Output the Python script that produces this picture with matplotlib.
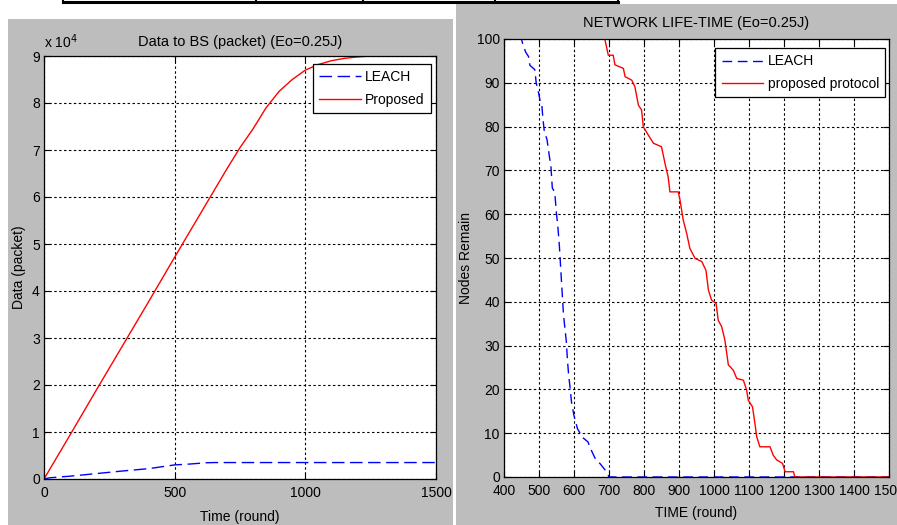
import matplotlib
matplotlib.use("Agg")
import matplotlib.pyplot as plt
from matplotlib.patches import Rectangle
from matplotlib.lines import Line2D

plt.rcParams['font.family'] = ['Liberation Sans Narrow', 'Liberation Sans', 'DejaVu Sans']

# ---------------- data: left panel (Data to BS) ----------------
left_rounds_proposed = [0, 100, 200, 300, 400, 500, 600, 700, 750, 800, 850, 900, 950,
                        1000, 1050, 1100, 1150, 1200, 1250, 1500]
left_data_proposed = [0, 9400, 18900, 28300, 37700, 47200, 56600, 66000, 70500, 74500,
                      79000, 82500, 85000, 87000, 88200, 89000, 89500, 89800, 90000, 90000]
left_rounds_leach = [0, 20, 100, 200, 300, 400, 500, 550, 620, 650, 1500]
left_data_leach = [0, 250, 600, 1150, 1700, 2200, 3000, 3150, 3450, 3500, 3500]
left_yticks = [0, 10000, 20000, 30000, 40000, 50000, 60000, 70000, 80000, 90000]
left_yticklabels = ['0', '1', '2', '3', '4', '5', '6', '7', '8', '9']
left_xticks = [0, 500, 1000, 1500]

# ---------------- data: right panel (Network life-time) ----------------
right_rounds_leach = [0, 450, 453, 462, 470, 474, 488, 492, 498, 503, 508, 511, 515, 523,
                      530, 534, 538, 545, 550, 553, 558, 561, 564, 567, 570, 574, 578,
                      581, 585, 588, 593, 600, 610, 625, 640, 650, 662, 675, 685, 695,
                      700, 1500]
right_nodes_leach = [100, 100, 99, 97, 96, 94, 93, 90, 88, 86, 85, 82, 79, 77,
                     73, 71, 66, 65, 60, 58, 53, 49, 45, 41, 37, 34, 31,
                     27, 23, 21, 17, 14, 11, 9, 8, 6, 4, 3, 2, 1,
                     0, 0]
right_rounds_proposed = [0, 688, 698, 712, 717, 741, 746, 765, 774, 784, 793, 798, 812,
                         827, 850, 860, 869, 874, 898, 903, 912, 922, 931, 946, 965,
                         977, 984, 993, 1006, 1012, 1022, 1031, 1041, 1055, 1065, 1084,
                         1093, 1098, 1110, 1117, 1122, 1131, 1160, 1169, 1179, 1196,
                         1203, 1227, 1231, 1500]
right_nodes_proposed = [100, 100, 96.3, 96.3, 94.1, 93.3, 91.4, 90.6, 89.1, 84.9, 83.8, 80, 78.1,
                        76.2, 75.4, 71.6, 68.5, 65.1, 65.1, 63.2, 58.7, 55.6, 52.2, 49.9, 49.2,
                        47.2, 42.7, 40.4, 39.6, 35.8, 34.3, 31.3, 25.6, 24.4, 22.5, 22.1,
                        19.9, 17.5, 16.0, 12.2, 9.2, 6.9, 6.9, 5.0, 3.9, 3.1,
                        1.2, 1.2, 0, 0]
right_xticks = list(range(400, 1501, 100))
right_yticks = list(range(0, 101, 10))

W, H = 897, 525
fig = plt.figure(figsize=(W / 100, H / 100), dpi=100)
fig.patch.set_facecolor('white')

GREY = '#bdbdbd'


def frect(x0, y0, x1, y1, **kw):
    fig.add_artist(Rectangle((x0 / W, 1 - y1 / H), (x1 - x0) / W, (y1 - y0) / H,
                             transform=fig.transFigure, **kw))


frect(8, 19, 453, 525, facecolor=GREY, edgecolor='none', zorder=0)
frect(456, 4, 897, 525, facecolor=GREY, edgecolor='none', zorder=0)

# table border fragment at the top
fig.add_artist(Line2D([63 / W, 618 / W], [1 - 2 / H, 1 - 2 / H],
                      transform=fig.transFigure, color='black', lw=2.2))
for xv in [63, 256, 363, 495, 618]:
    fig.add_artist(Line2D([xv / W, xv / W], [1, 1 - 3 / H], transform=fig.transFigure,
                          color='black', lw=1.5))


def ax_at(l, t, r, b):
    return fig.add_axes([l / W, 1 - b / H, (r - l) / W, (b - t) / H])


FS = 10
grid_kw = dict(color='black', linestyle=(0, (2.2, 2.2)), linewidth=0.8)


def style(ax):
    ax.set_facecolor('white')
    for s in ax.spines.values():
        s.set_color('black')
        s.set_linewidth(0.9)
    ax.tick_params(direction='in', length=4, width=0.8, top=True, right=True,
                   labelsize=FS, pad=3, colors='black')
    ax.tick_params(axis='x', pad=5)
    ax.grid(True, **grid_kw)
    ax.set_axisbelow(True)


leg_kw = dict(loc='upper right', fontsize=FS, frameon=True, fancybox=False,
              edgecolor='black', framealpha=1, handlelength=3.0,
              borderpad=0.45, labelspacing=0.6, handletextpad=0.3, borderaxespad=0)

# ---------------- left panel ----------------
ax1 = ax_at(44, 56, 436, 479)
style(ax1)
ax1.plot(left_rounds_leach, left_data_leach, color='blue', lw=1.0,
         dashes=(9, 4), label='LEACH')
ax1.plot(left_rounds_proposed, left_data_proposed, color='red', lw=1.0, label='Proposed')
ax1.set_xlim(0, 1500)
ax1.set_ylim(0, 90000)
ax1.set_xticks(left_xticks)
ax1.set_yticks(left_yticks)
ax1.set_yticklabels(left_yticklabels)
ax1.set_title('Data to BS (packet) (Eo=0.25J)', fontsize=FS + 0.5, pad=7)
ax1.set_xlabel('Time (round)', fontsize=FS, labelpad=7)
ax1.set_ylabel('Data (packet)', fontsize=FS, labelpad=4)
ax1.text(0.0, 1.012, r'x 10$^{4}$', transform=ax1.transAxes, fontsize=FS,
         ha='left', va='bottom')
leg1 = ax1.legend(bbox_to_anchor=(0.987, 0.981), **leg_kw)
leg1.get_frame().set_linewidth(0.9)

# ---------------- right panel ----------------
ax2 = ax_at(504, 39, 889, 477)
style(ax2)
ax2.plot(right_rounds_leach, right_nodes_leach, color='blue', lw=1.0,
         dashes=(7, 4), label='LEACH')
ax2.plot(right_rounds_proposed, right_nodes_proposed, color='red', lw=1.0,
         label='proposed protocol')
ax2.set_xlim(400, 1500)
ax2.set_ylim(0, 100)
ax2.set_xticks(right_xticks)
ax2.set_yticks(right_yticks)
ax2.set_title('NETWORK LIFE-TIME (Eo=0.25J)', fontsize=FS + 0.5, pad=9)
ax2.set_xlabel('TIME (round)', fontsize=FS, labelpad=6)
ax2.set_ylabel('Nodes Remain', fontsize=FS, labelpad=3)
leg2 = ax2.legend(bbox_to_anchor=(0.99, 0.979), **leg_kw)
leg2.get_frame().set_linewidth(0.9)

fig.savefig('out.png', dpi=100, facecolor=fig.get_facecolor())
